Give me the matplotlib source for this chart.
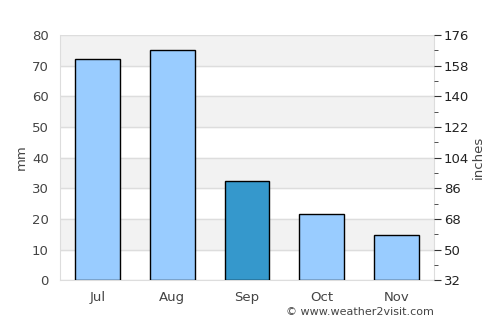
import numpy as np
import matplotlib
matplotlib.use("Agg")
import matplotlib.pyplot as plt

months = ["Jul", "Aug", "Sep", "Oct", "Nov"]
rain_mm = [72.2, 75.1, 32.3, 21.5, 14.7]
bar_colors = ["#99ccff", "#99ccff", "#3598cc", "#99ccff", "#99ccff"]
left_ticks = [0, 10, 20, 30, 40, 50, 60, 70, 80]
right_labels = ["32", "50", "68", "86", "104", "122", "140", "158", "176"]

text_col = "#444444"
grid_col = "#dddddd"

fig = plt.figure(figsize=(5, 3.25), dpi=100)
ax = fig.add_axes([0.12, 0.138, 0.748, 0.754])

# alternating background bands
for lo in range(10, 80, 20):
    ax.axhspan(lo, lo + 10, color="#f2f2f2", zorder=0)
ax.set_ylim(0, 80)
ax.set_xlim(-0.5, 4.5)
ax.set_yticks(left_ticks)
ax.yaxis.grid(True, color=grid_col, linewidth=1, zorder=1)
ax.set_axisbelow(True)

x = np.arange(len(months))
ax.bar(x, rain_mm, width=0.6, color=bar_colors, edgecolor="black", linewidth=1, zorder=3)
ax.set_xticks(x)
ax.set_xticklabels(months)

ax.tick_params(axis="y", length=0, labelsize=9.5, labelcolor=text_col, pad=8)
ax.tick_params(axis="x", length=0, labelsize=9.5, labelcolor=text_col, pad=8)
for s in ax.spines.values():
    s.set_color(grid_col)
ax.spines["top"].set_visible(False)
ax.set_ylabel("mm", color=text_col, fontsize=9.5, labelpad=3)

# right axis (values shown as 32 + 1.8*mm)
ax2 = ax.twinx()
ax2.set_ylim(0, 80)
ax2.set_yticks(left_ticks)
ax2.set_yticklabels(right_labels)
ax2.set_yticks(np.arange(5, 80, 10), minor=True)
ax2.tick_params(axis="y", which="major", length=5, color="#333333", labelsize=9.5, labelcolor="#222222", pad=2)
ax2.tick_params(axis="y", which="minor", length=3, color="#333333")
for s in ax2.spines.values():
    s.set_visible(False)
ax2.set_ylabel("inches", color=text_col, fontsize=9.5, labelpad=2)

fig.text(0.868, 0.025, "\u00a9 www.weather2visit.com", ha="right", va="bottom",
         fontsize=8, color=text_col)

fig.savefig("out.png", dpi=100)
